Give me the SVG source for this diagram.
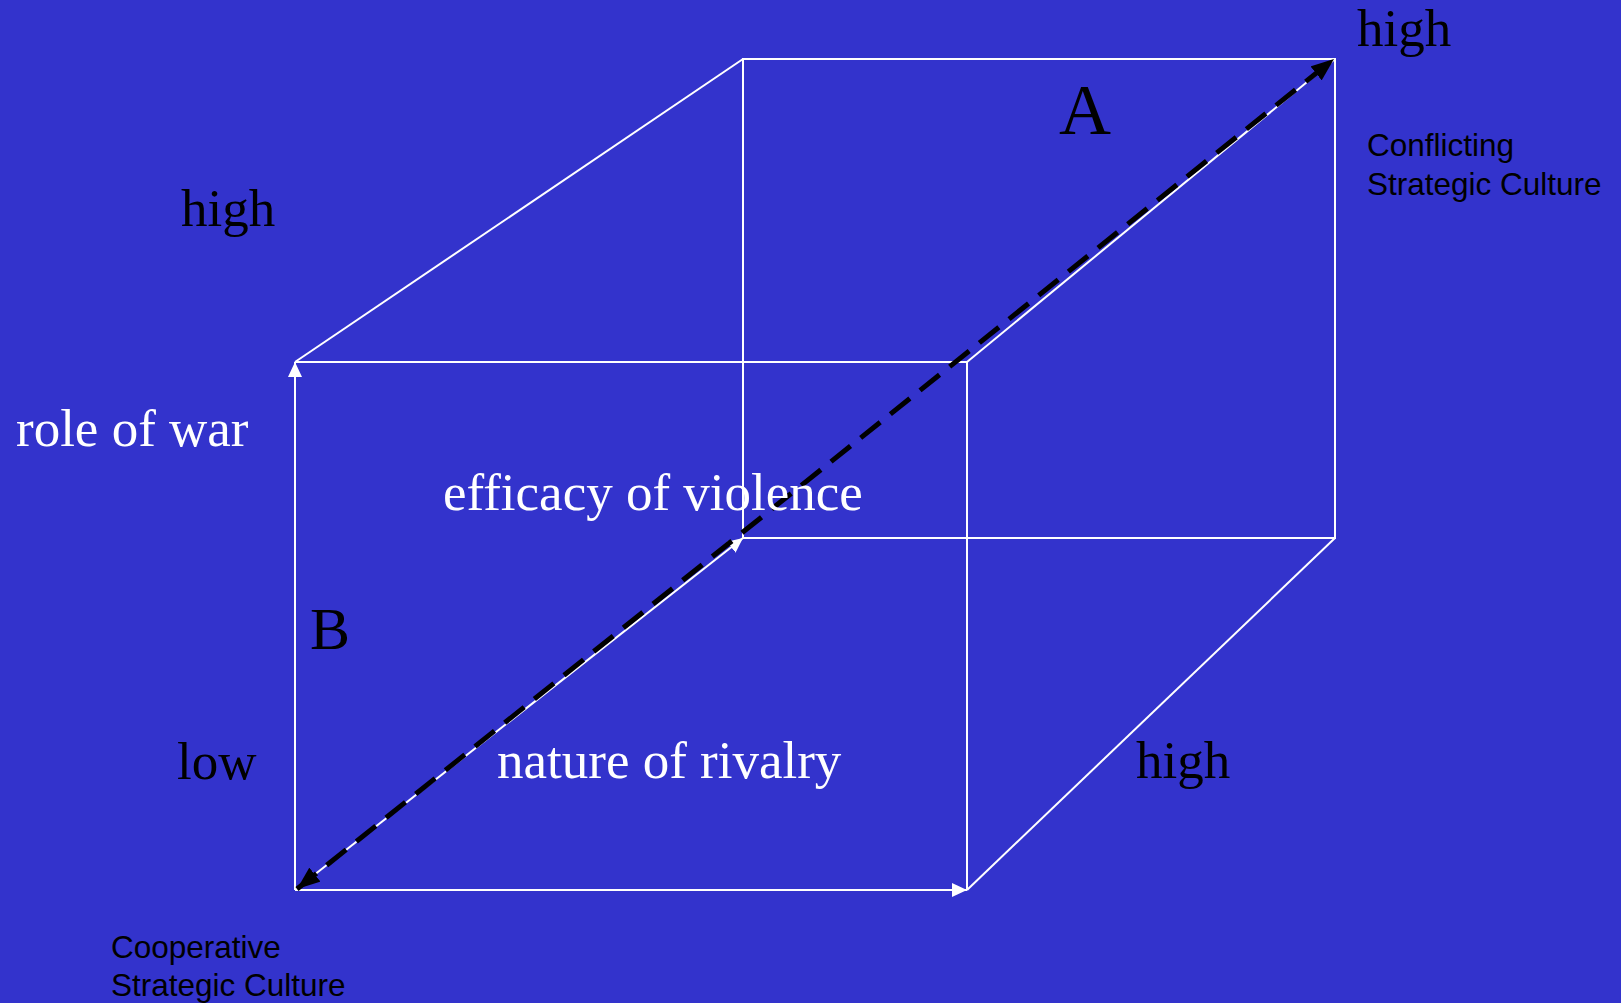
<svg xmlns="http://www.w3.org/2000/svg" width="1621" height="1003" viewBox="0 0 1621 1003">
<style>
.edge{stroke:#FFFFFF;stroke-width:2;fill:none}
.dash{stroke:#000000;stroke-width:5;stroke-dasharray:25 13;fill:none}
.serif{font-family:"Liberation Serif","Times New Roman",serif;font-size:53px}
.big{font-family:"Liberation Serif","Times New Roman",serif}
.sans{font-family:"Liberation Sans",Arial,sans-serif;font-size:31.5px;fill:#000000}
.w{fill:#FFFFFF}
.k{fill:#000000}
</style>
<defs>
<marker id="wa" markerUnits="userSpaceOnUse" markerWidth="16" markerHeight="15" refX="15" refY="7" orient="auto">
<path d="M0,0 L15,7 L0,14 Z" fill="#FFFFFF"/>
</marker>
<marker id="ka" markerUnits="userSpaceOnUse" markerWidth="24" markerHeight="18" refX="23" refY="9" orient="auto-start-reverse">
<path d="M0,0 L23,9 L0,18 Z" fill="#000000"/>
</marker>
</defs>
<rect x="0" y="0" width="1621" height="1003" fill="#3333CC"/>
<g id="connectors">
<rect class="edge" x="743" y="59" width="592" height="479"/>
<line class="edge" x1="743" y1="59" x2="295" y2="362"/>
<line class="edge" x1="967" y1="362" x2="1335" y2="59"/>
<line class="edge" x1="1335" y1="538" x2="967" y2="890"/>
<line class="edge" x1="295" y1="362" x2="967" y2="362"/>
<line class="edge" x1="967" y1="362" x2="967" y2="890"/>
<line class="edge" x1="295" y1="890" x2="295" y2="362" marker-end="url(#wa)"/>
<line class="edge" x1="295" y1="890" x2="967" y2="890" marker-end="url(#wa)"/>
<line class="edge" x1="295" y1="890" x2="743" y2="538" marker-end="url(#wa)"/>
<line class="dash" x1="297" y1="889" x2="1334" y2="59" marker-start="url(#ka)" marker-end="url(#ka)"/>
</g>
<g id="label-high-top"><text class="serif k" x="1357" y="46">high</text></g>
<g id="label-A"><text class="big k" x="1059" y="134" font-size="72">A</text></g>
<g id="label-conflicting"><text class="sans" x="1367" y="156">Conflicting</text><text class="sans" x="1367" y="195">Strategic Culture</text></g>
<g id="label-high-left"><text class="serif k" x="181" y="226">high</text></g>
<g id="label-role"><text class="serif w" x="16" y="446">role of war</text></g>
<g id="label-efficacy"><text class="serif w" x="443" y="510">efficacy of violence</text></g>
<g id="label-B"><text class="big k" x="310" y="649" font-size="60">B</text></g>
<g id="label-low"><text class="serif k" x="177" y="779">low</text></g>
<g id="label-nature"><text class="serif w" x="497" y="778">nature of rivalry</text></g>
<g id="label-high-right"><text class="serif k" x="1136" y="778">high</text></g>
<g id="label-cooperative"><text class="sans" x="111" y="958">Cooperative</text><text class="sans" x="111" y="996">Strategic Culture</text></g>
</svg>
